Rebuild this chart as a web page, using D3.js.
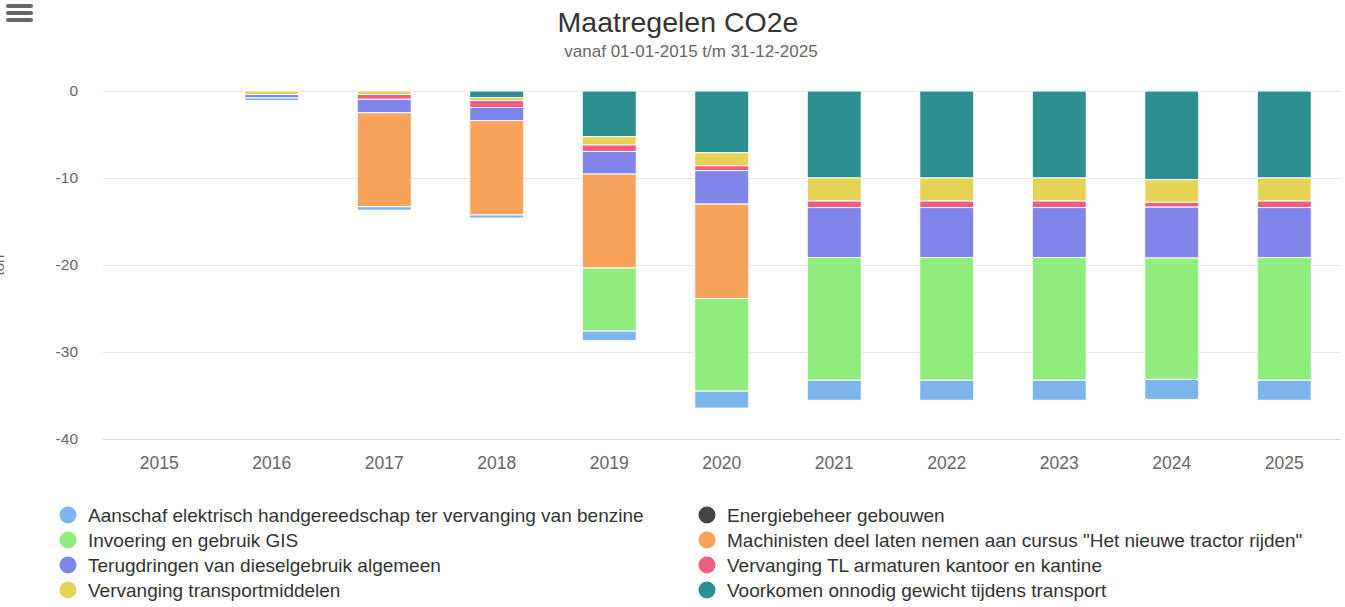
<!DOCTYPE html>
<html>
<head>
<meta charset="utf-8">
<script src="https://cdn.jsdelivr.net/npm/d3@7"></script>
<style>
  body { margin: 0; background: #fff; }
  svg { font-family: "Liberation Sans", Arial, Helvetica, sans-serif; display: block; }
</style>
</head>
<body>
<svg id="chart"></svg>
<script>
// jaren op de x-as
const jaren = ['2015', '2016', '2017', '2018', '2019', '2020', '2021', '2022', '2023', '2024', '2025']
const yTicks = [0, -10, -20, -30, -40]

// reeksen (ton CO2e), zelfde volgorde als de legenda
const reeksNamen = [
    'Aanschaf elektrisch handgereedschap ter vervanging van benzine',
    'Energiebeheer gebouwen',
    'Invoering en gebruik GIS',
    'Machinisten deel laten nemen aan cursus "Het nieuwe tractor rijden"',
    'Terugdringen van dieselgebruik algemeen',
    'Vervanging TL armaturen kantoor en kantine',
    'Vervanging transportmiddelen',
    'Voorkomen onnodig gewicht tijdens transport'
]
const kleuren = ['#7cb5ec', '#434348', '#90ed7d', '#f7a35c', '#8085e9', '#f15c80', '#e4d354', '#2b908f']

const aanschaf = [0, -0.3, -0.4, -0.35, -1.1, -1.95, -2.3, -2.3, -2.3, -2.3, -2.3]
const energiebeheer = [0, 0, 0, 0, 0, 0, 0, 0, 0, 0, 0]
const invoering = [0, 0, 0, 0, -7.25, -10.65, -14.1, -14.1, -14.1, -13.95, -14.1]
const machinisten = [0, 0, -10.8, -10.85, -10.8, -10.85, 0, 0, 0, 0, 0]
const terugdringen = [0, -0.4, -1.55, -1.5, -2.6, -3.85, -5.75, -5.75, -5.75, -5.85, -5.75]
const tlArmaturen = [0, 0, -0.55, -0.8, -0.75, -0.55, -0.75, -0.75, -0.75, -0.55, -0.75]
const transport = [0, -0.4, -0.4, -0.35, -0.95, -1.5, -2.65, -2.65, -2.65, -2.6, -2.65]
const voorkomen = [0, 0, 0, -0.75, -5.25, -7.1, -10, -10, -10, -10.2, -10]

const reeksen = [aanschaf, energiebeheer, invoering, machinisten, terugdringen, tlArmaturen, transport, voorkomen]

const width = 1345
const height = 607
const svg = d3.select('#chart')
    .attr('width', width)
    .attr('height', height)

const plot = { left: 103, right: 1340.5, top: 91, bottom: 439 }

const x = d3.scaleBand()
    .domain(jaren)
    .range([plot.left, plot.right])
const y = d3.scaleLinear()
    .domain([0, -40])
    .range([plot.top, plot.bottom])

// tabel voor d3.stack
const tabel = jaren.map((jaar, i) => {
    const rij = { jaar }
    reeksNamen.forEach((naam, s) => rij[naam] = reeksen[s][i])
    return rij
})

// eerste reeks staat het verst van nul, dus keys omdraaien
const stack = d3.stack()
    .keys(reeksNamen.slice().reverse())
    .offset(d3.stackOffsetDiverging)
const gestapeld = stack(tabel)

// gridlijnen
svg.append('g')
    .selectAll('line')
    .data(yTicks)
    .join('line')
    .attr('x1', plot.left)
    .attr('x2', plot.right)
    .attr('y1', d => Math.round(y(d)) + 0.5)
    .attr('y2', d => Math.round(y(d)) + 0.5)
    .attr('stroke', '#e6e6e6')
    .attr('stroke-width', 1)

// y labels
svg.append('g')
    .selectAll('text')
    .data(yTicks)
    .join('text')
    .attr('x', 78)
    .attr('y', d => y(d) + 5)
    .attr('text-anchor', 'end')
    .attr('font-size', 15.5)
    .attr('fill', '#666666')
    .text(d => d)

// y-as titel (valt half buiten beeld, net als in het origineel)
svg.append('text')
    .attr('transform', `translate(4, ${(plot.top + plot.bottom) / 2}) rotate(-90)`)
    .attr('text-anchor', 'middle')
    .attr('font-size', 15)
    .attr('fill', '#666666')
    .text('ton')

// x-as lijn
svg.append('line')
    .attr('x1', plot.left)
    .attr('x2', plot.right)
    .attr('y1', plot.bottom + 0.5)
    .attr('y2', plot.bottom + 0.5)
    .attr('stroke', '#ccd6eb')

svg.append('g')
    .selectAll('text')
    .data(jaren)
    .join('text')
    .attr('x', d => x(d) + x.bandwidth() / 2)
    .attr('y', 469)
    .attr('text-anchor', 'middle')
    .attr('font-size', 17.5)
    .attr('fill', '#666666')
    .text(d => d)

// staven
const barBreedte = 54
const lagen = svg.append('g')
    .selectAll('g')
    .data(gestapeld)
    .join('g')
    .attr('fill', d => kleuren[reeksNamen.indexOf(d.key)])

lagen.selectAll('rect')
    .data(d => d.filter(p => p[1] - p[0] !== 0))
    .join('rect')
    .attr('x', d => x(d.data.jaar) + x.bandwidth() / 2 - barBreedte / 2)
    .attr('y', d => y(d[1]))
    .attr('width', barBreedte)
    .attr('height', d => y(d[0]) - y(d[1]))
    .attr('stroke', '#ffffff')
    .attr('stroke-width', 1)

// titel
svg.append('text')
    .attr('x', 678)
    .attr('y', 32)
    .attr('text-anchor', 'middle')
    .attr('font-size', 28.5)
    .attr('fill', '#333333')
    .text('Maatregelen CO2e')

svg.append('text')
    .attr('x', 691)
    .attr('y', 57)
    .attr('text-anchor', 'middle')
    .attr('font-size', 17)
    .attr('fill', '#666666')
    .text('vanaf 01-01-2015 t/m 31-12-2025')

// menu icoon
svg.append('g')
    .selectAll('rect')
    .data([0, 1, 2])
    .join('rect')
    .attr('x', 6)
    .attr('y', d => 4 + d * 7)
    .attr('width', 27)
    .attr('height', 4)
    .attr('rx', 2)
    .attr('fill', '#666666')

// legenda in twee kolommen
const legenda = svg.append('g')
    .selectAll('g')
    .data(reeksNamen)
    .join('g')
    .attr('transform', (d, i) => `translate(${i % 2 === 0 ? 68 : 707}, ${515 + Math.floor(i / 2) * 25})`)

legenda.append('circle')
    .attr('r', 8.5)
    .attr('fill', (d, i) => kleuren[i])

legenda.append('text')
    .attr('x', 20)
    .attr('y', 7)
    .attr('font-size', 19)
    .attr('fill', '#333333')
    .text(d => d)
</script>
</body>
</html>
